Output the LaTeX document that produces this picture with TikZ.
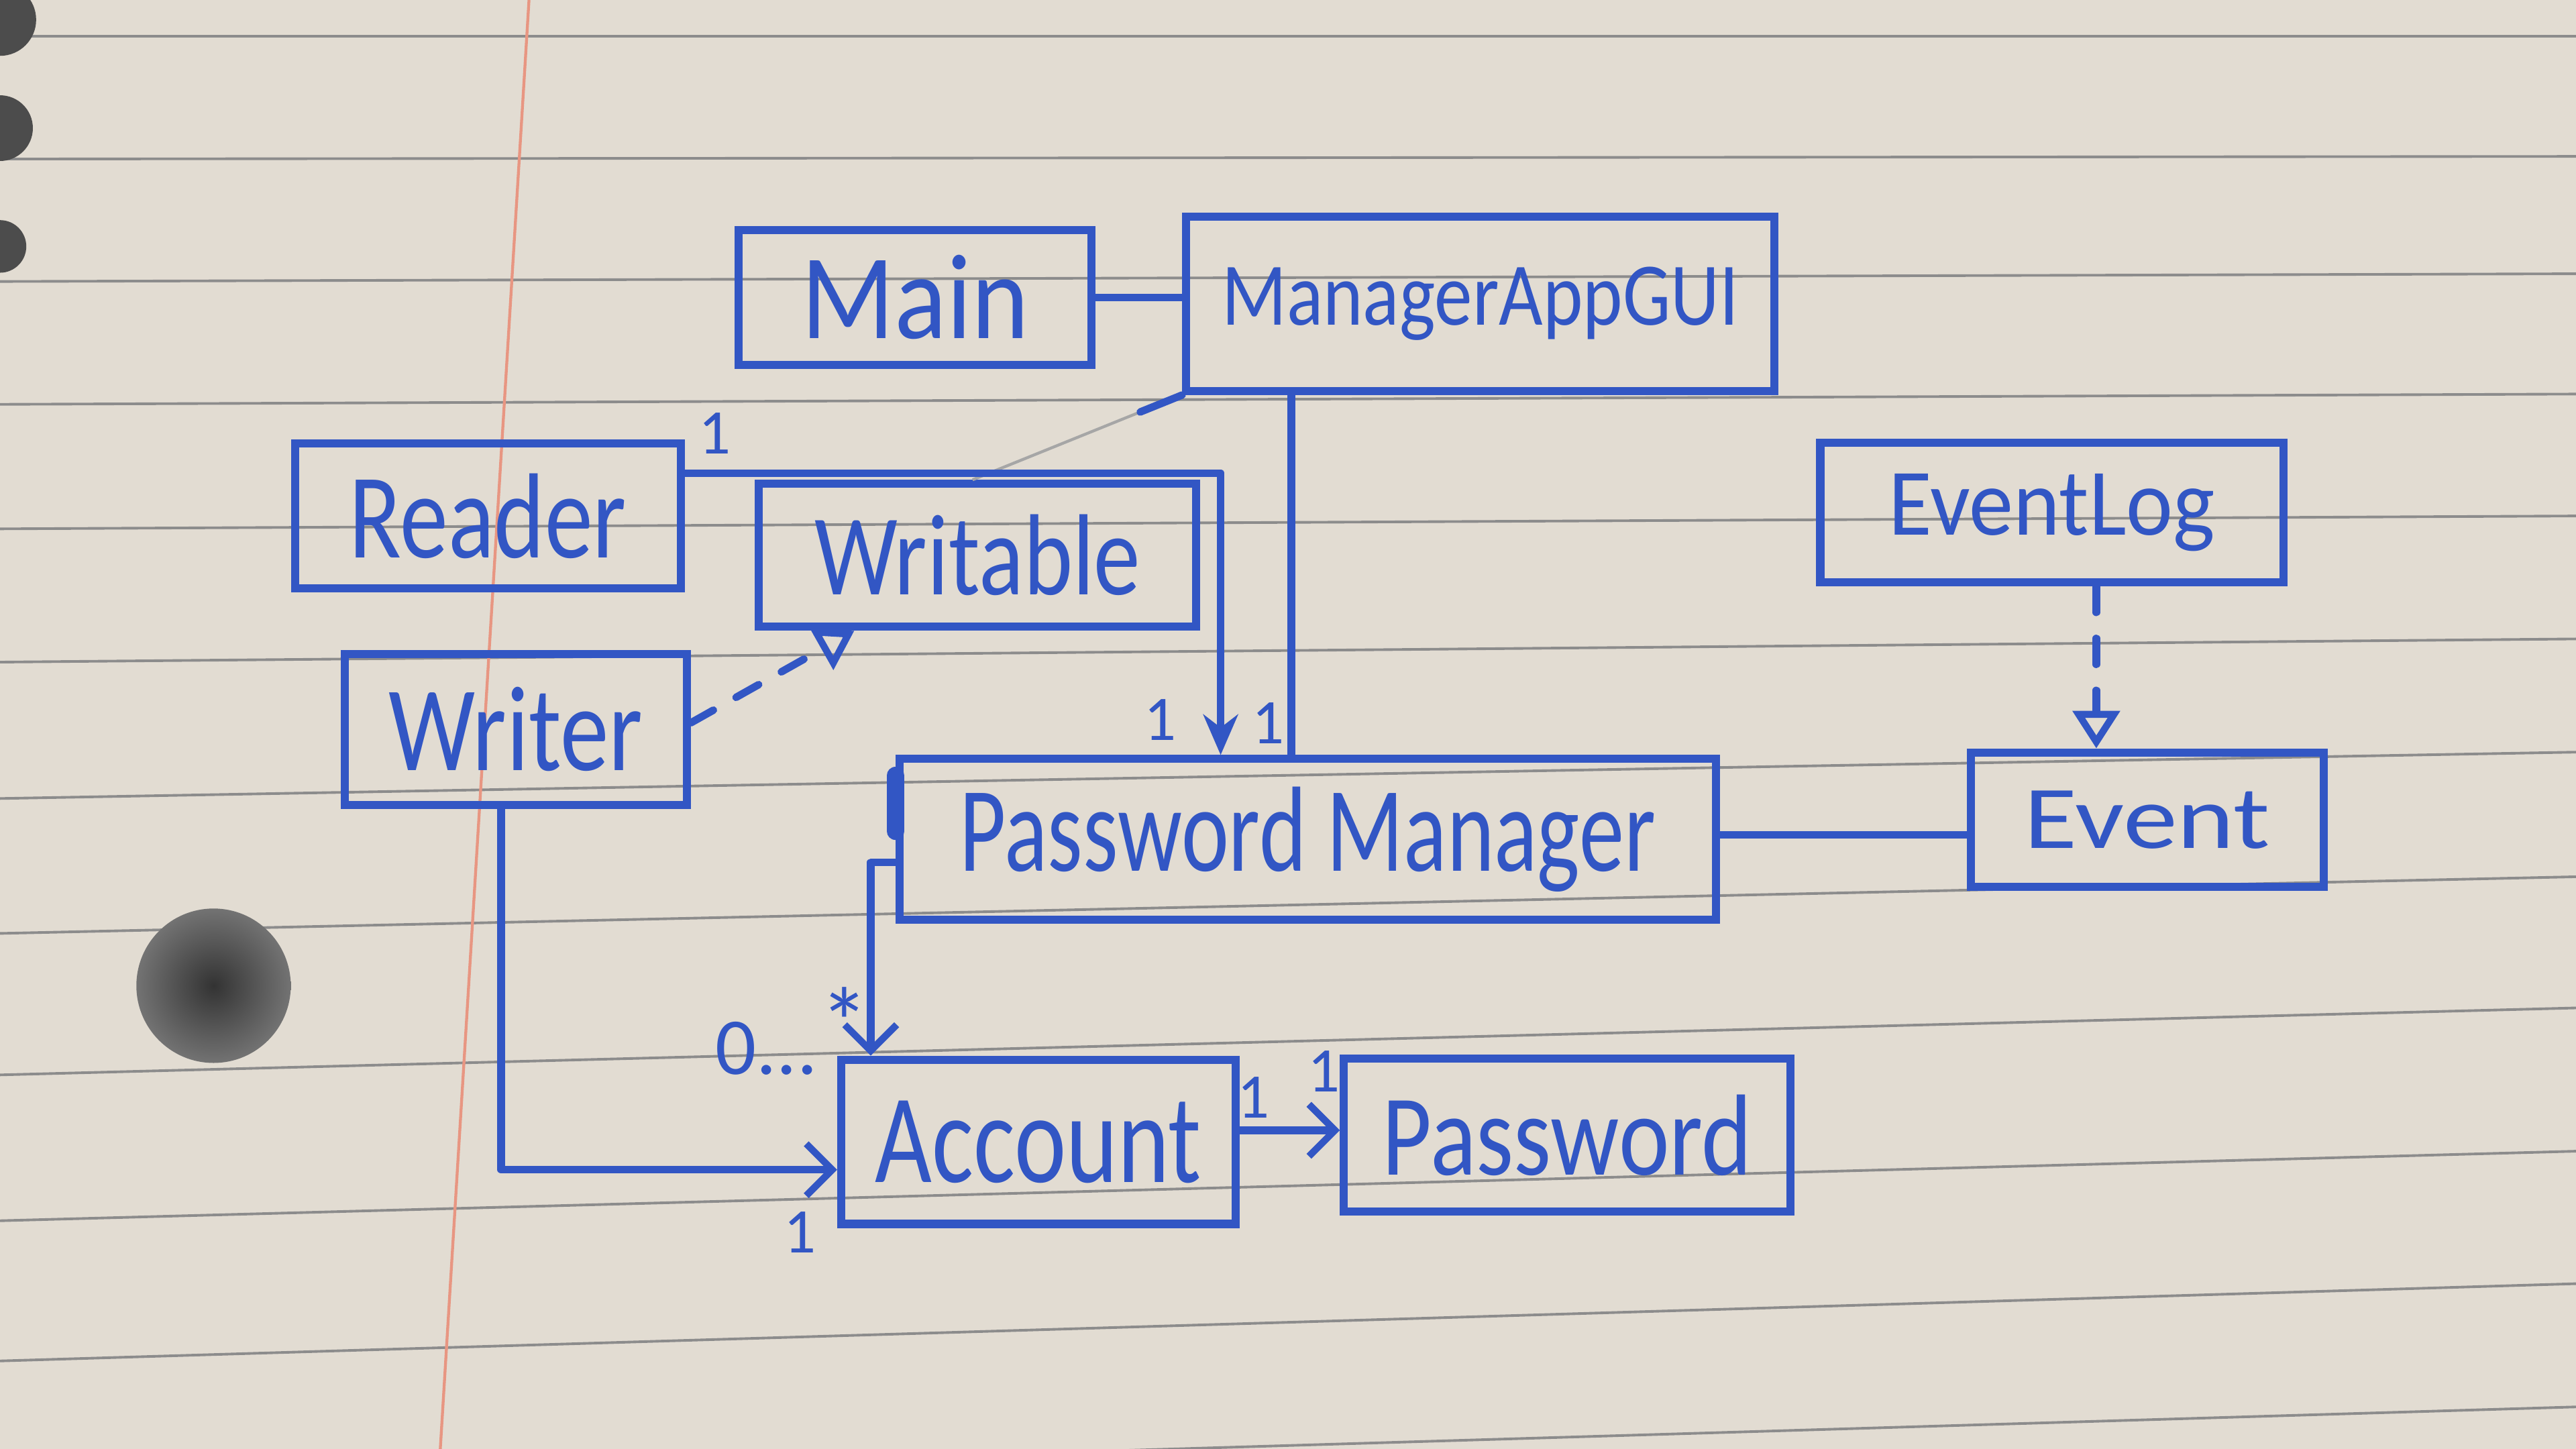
\documentclass[tikz,border=0pt]{standalone}
\usepackage{fontspec}
\usepackage{graphicx}
\newfontfamily\handfont{Carlito}
\usetikzlibrary{arrows.meta,calc}
\definecolor{ink}{RGB}{50,86,196}
\definecolor{paper}{RGB}{226,220,210}
\definecolor{rulecol}{RGB}{140,140,140}
\definecolor{margincol}{RGB}{232,150,130}
\def\pxu{0.02cm}
\newcommand{\lbl}[3]{\resizebox{#1pt}{\height}{\fontsize{#2}{#2}\selectfont #3}}
\tikzset{
  cls/.style={draw=ink, line width=2.8pt, text=ink, inner sep=0pt, font=\handfont},
  conn/.style={draw=ink, line width=2.6pt, line cap=round, line join=round},
  realize/.style={conn, dash pattern=on 9pt off 9pt, -{Triangle[open, length=13pt, width=16pt, line width=2.4pt]}},
  barb/.style={-{Straight Barb[length=9pt, width=18pt, line width=2.4pt]}},
  mult/.style={text=ink, inner sep=0pt, font=\handfont\fontsize{22}{22}\selectfont},
}
\begin{document}
\begin{tikzpicture}[x=0.02cm, y=-0.02cm]
% paper
\fill[paper] (0,0) rectangle (1568,882);
\useasboundingbox (0,0) rectangle (1568,882);
\foreach \yy/\ss in {22/0, 96/0.001, 169/0.003, 243/0.004, 318/0.005, 396/0.009, 472/0.018, 551/0.022, 634/0.026, 722/0.027, 805/0.03, 880/0.03}{
  \draw[rulecol, line width=0.9pt] (0,{\yy+780*\ss}) -- (1568,{\yy-788*\ss});
}
\draw[margincol, line width=1pt] (322,0) -- (268,882);
\shade[inner color=black!80, outer color=black!55] (130,600) circle [radius=47];
\fill[black!70] (0,12) circle [radius=22];
\fill[black!70] (0,78) circle [radius=20];
\fill[black!70] (0,150) circle [radius=16];

% coordinates for connectors
\coordinate (xg) at (786,0);
\coordinate (xr) at (743,0);
\coordinate (yr) at (0,288);
\coordinate (yw) at (0,440);
\coordinate (xw) at (520,0);
\coordinate (xa) at (305,0);
\coordinate (ya) at (0,712);
\coordinate (yp) at (0,525);
\coordinate (xp) at (530,0);
\coordinate (yap) at (0,688);
\coordinate (ye) at (0,508);
\coordinate (xe) at (1276,0);
\coordinate (xf) at (592,0);
\coordinate (yb1) at (0,472);
\coordinate (yb2) at (0,506);

% classes
\node[cls, minimum width={215*\pxu}, minimum height={82*\pxu}] (main) at (557,181) {\lbl{79}{42}{Main}};
\node[cls, minimum width={358*\pxu}, minimum height={106*\pxu}] (gui) at (901,185) {\lbl{179}{31}{ManagerAppGUI}};
\node[cls, minimum width={235*\pxu}, minimum height={88*\pxu}] (reader) at (297,314) {\lbl{96}{42}{Reader}};
\node[cls, minimum width={266*\pxu}, minimum height={87*\pxu}] (writable) at (595,338) {\lbl{113}{40}{Writable}};
\node[cls, minimum width={208*\pxu}, minimum height={92*\pxu}] (writer) at (314,444) {\lbl{88}{42}{Writer}};
\node[cls, minimum width={497*\pxu}, minimum height={98*\pxu}] (pm) at (796,511) {\lbl{241}{42}{Password Manager}};
\node[cls, minimum width={282*\pxu}, minimum height={85*\pxu}] (eventlog) at (1249,312) {\lbl{113}{33}{EventLog}};
\node[cls, minimum width={215*\pxu}, minimum height={82*\pxu}] (event) at (1307,499) {\lbl{85}{31}{Event}};
\node[cls, minimum width={240*\pxu}, minimum height={100*\pxu}] (account) at (632,695) {\lbl{113}{44}{Account}};
\node[cls, minimum width={272*\pxu}, minimum height={93*\pxu}] (password) at (954,691) {\lbl{128}{40}{Password}};

% faint erased line
\draw[black!35, line width=1pt] (gui.south west) -- (writable.north -| xf);
\draw[conn] (gui.south west) -- ($(gui.south west)!0.2!(writable.north -| xf)$);

% connectors
\draw[conn] (main.east) -- (gui.west |- main.east);
\draw[conn] (gui.south -| xg) -- (pm.north -| xg);
\draw[conn, -{Stealth[length=14pt, width=12pt]}] (reader.east |- yr) -| (pm.north -| xr);
\draw[realize] (writer.east |- yw) -- (writable.south -| xw);
\draw[conn, barb] (writer.south -| xa) |- (account.west |- ya);
\draw[conn, barb] (pm.west |- yp) -| (account.north -| xp);
\draw[conn, barb] (account.east |- yap) -- (password.west |- yap);
\draw[conn] (pm.east |- ye) -- (event.west |- ye);
\draw[realize] (eventlog.south -| xe) -- (event.north -| xe);
\draw[ink, line width=6pt, line cap=round] (pm.west |- yb1) -- (pm.west |- yb2);

% multiplicities
\node[mult] (m1) at (435,264) {1};
\node[mult] (m2) at (706,438) {1};
\node[mult] (m3) at (772,440) {1};
\node[mult, anchor=east, font=\handfont\fontsize{28}{28}\selectfont] (m4) at (498,638) {0...};
\node[mult, font=\handfont\fontsize{34}{34}\selectfont] (m4s) at (514,622) {*};
\node[mult] (m5) at (487,750) {1};
\node[mult] (m6) at (763,668) {1};
\node[mult] (m7) at (806,652) {1};
\end{tikzpicture}
\end{document}
